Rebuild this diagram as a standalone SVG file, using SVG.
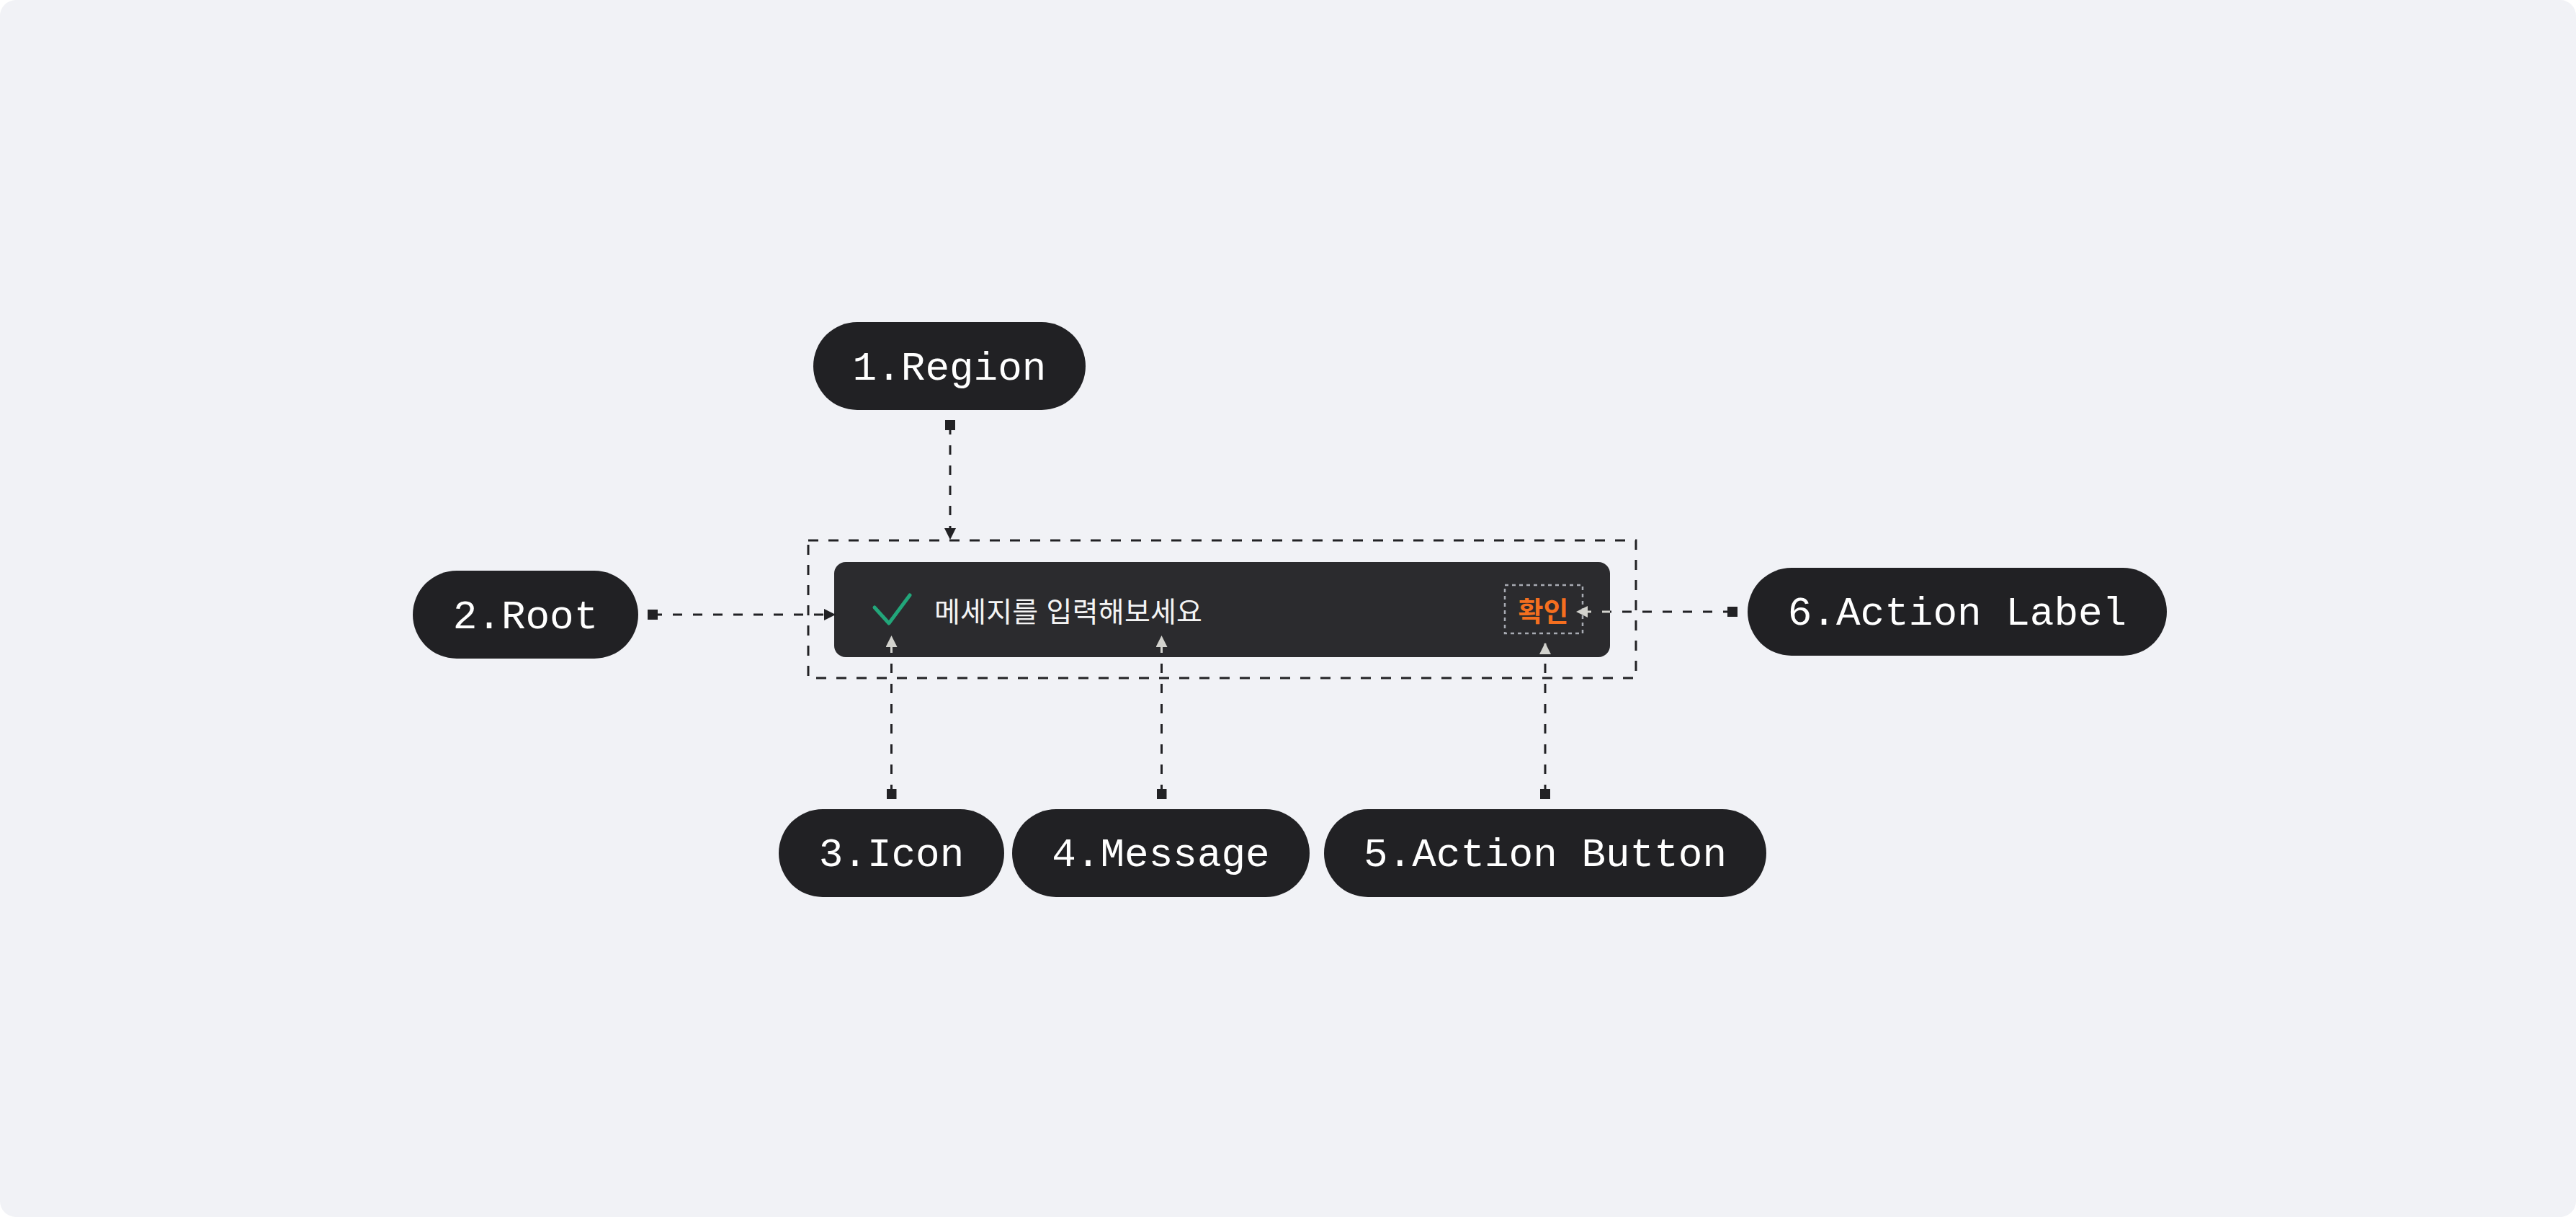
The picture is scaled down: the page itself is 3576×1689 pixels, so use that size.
<svg xmlns="http://www.w3.org/2000/svg" width="3576" height="1689" viewBox="0 0 3576 1689">
<style>
.pill{fill:#212124;}
.lbl{font-family:"Liberation Mono","DejaVu Sans Mono",monospace;font-size:56px;fill:#ffffff;text-anchor:middle;}
.conn{fill:none;stroke:#222225;stroke-width:3;stroke-dasharray:13 15;}
.connL{fill:none;stroke:#d3d3ce;stroke-width:3;stroke-dasharray:13 15;}
.msg{font-family:"Liberation Sans","Noto Sans CJK KR",sans-serif;font-size:39px;fill:#f4f4f4;}
.act{font-family:"Liberation Sans","Noto Sans CJK KR",sans-serif;font-size:38px;font-weight:700;fill:#f56f1f;}
</style>
<defs>
<marker id="sq" markerUnits="userSpaceOnUse" markerWidth="14" markerHeight="14" refX="7" refY="7" orient="auto">
<rect x="0" y="0" width="14" height="14" fill="#222225"/>
</marker>
<marker id="arr" markerUnits="userSpaceOnUse" markerWidth="16" markerHeight="16" refX="16" refY="8" orient="auto">
<path d="M0,0 L16,8 L0,16 Z" fill="#222225"/>
</marker>
<marker id="arrL" markerUnits="userSpaceOnUse" markerWidth="16" markerHeight="16" refX="16" refY="8" orient="auto">
<path d="M0,0 L16,8 L0,16 Z" fill="#d3d3ce"/>
</marker>
<clipPath id="toastClip"><rect x="1158" y="780" width="1077" height="132" rx="16"/></clipPath>
</defs>
<rect x="0" y="0" width="3576" height="1689" fill="#ffffff"/>
<rect x="0" y="0" width="3576" height="1689" rx="22" fill="#f1f2f6"/>

<g id="region-box">
<rect x="1122" y="750" width="1149" height="191" fill="none" stroke="#222225" stroke-width="3" stroke-dasharray="14 14"/>
</g>

<g id="toast">
<rect x="1158" y="780" width="1077" height="132" rx="16" fill="#2b2b2e"/>
<polyline points="1214,843 1234,865 1263,826" fill="none" stroke="#22a67a" stroke-width="5" stroke-linecap="round" stroke-linejoin="round"/>
<text class="msg" x="1297" y="863" textLength="372" lengthAdjust="spacing">메세지를 입력해보세요</text>
<rect x="2089" y="812" width="108" height="67" fill="none" stroke="#a8abb3" stroke-width="2.5" stroke-dasharray="5 5"/>
<text class="act" x="2142.5" y="862" text-anchor="middle">확인</text>
</g>

<g id="node-region">
<rect class="pill" x="1129" y="447" width="378" height="122" rx="61"/>
<text class="lbl" x="1318" y="527">1.Region</text>
</g>
<g id="node-root">
<rect class="pill" x="573" y="792" width="313" height="122" rx="61"/>
<text class="lbl" x="729.5" y="872">2.Root</text>
</g>
<g id="node-icon">
<rect class="pill" x="1081" y="1123" width="313" height="122" rx="61"/>
<text class="lbl" x="1237.5" y="1202">3.Icon</text>
</g>
<g id="node-message">
<rect class="pill" x="1405" y="1123" width="413" height="122" rx="61"/>
<text class="lbl" x="1611.5" y="1202">4.Message</text>
</g>
<g id="node-action-button">
<rect class="pill" x="1838" y="1123" width="614" height="122" rx="61"/>
<text class="lbl" x="2145" y="1202">5.Action Button</text>
</g>
<g id="node-action-label">
<rect class="pill" x="2426" y="788" width="582" height="122" rx="61"/>
<text class="lbl" x="2717" y="867">6.Action Label</text>
</g>

<g id="connectors">
<path class="conn" d="M1319,590 L1319,749" marker-start="url(#sq)" marker-end="url(#arr)"/>
<path class="conn" d="M906,853 L1160,853" marker-start="url(#sq)" marker-end="url(#arr)"/>
<path class="conn" d="M1237.5,1102 L1237.5,882" marker-start="url(#sq)" marker-end="url(#arr)"/>
<path class="conn" d="M1612.5,1102 L1612.5,882" marker-start="url(#sq)" marker-end="url(#arr)"/>
<path class="conn" d="M2145,1102 L2145,892" marker-start="url(#sq)" marker-end="url(#arr)"/>
<path class="conn" d="M2405,849 L2188,849" marker-start="url(#sq)" marker-end="url(#arr)"/>
<g clip-path="url(#toastClip)">
<path class="connL" d="M1237.5,1102 L1237.5,882" marker-end="url(#arrL)"/>
<path class="connL" d="M1612.5,1102 L1612.5,882" marker-end="url(#arrL)"/>
<path class="connL" d="M2145,1102 L2145,892" marker-end="url(#arrL)"/>
<path class="connL" d="M2405,849 L2188,849" marker-end="url(#arrL)"/>
</g>
</g>
</svg>
